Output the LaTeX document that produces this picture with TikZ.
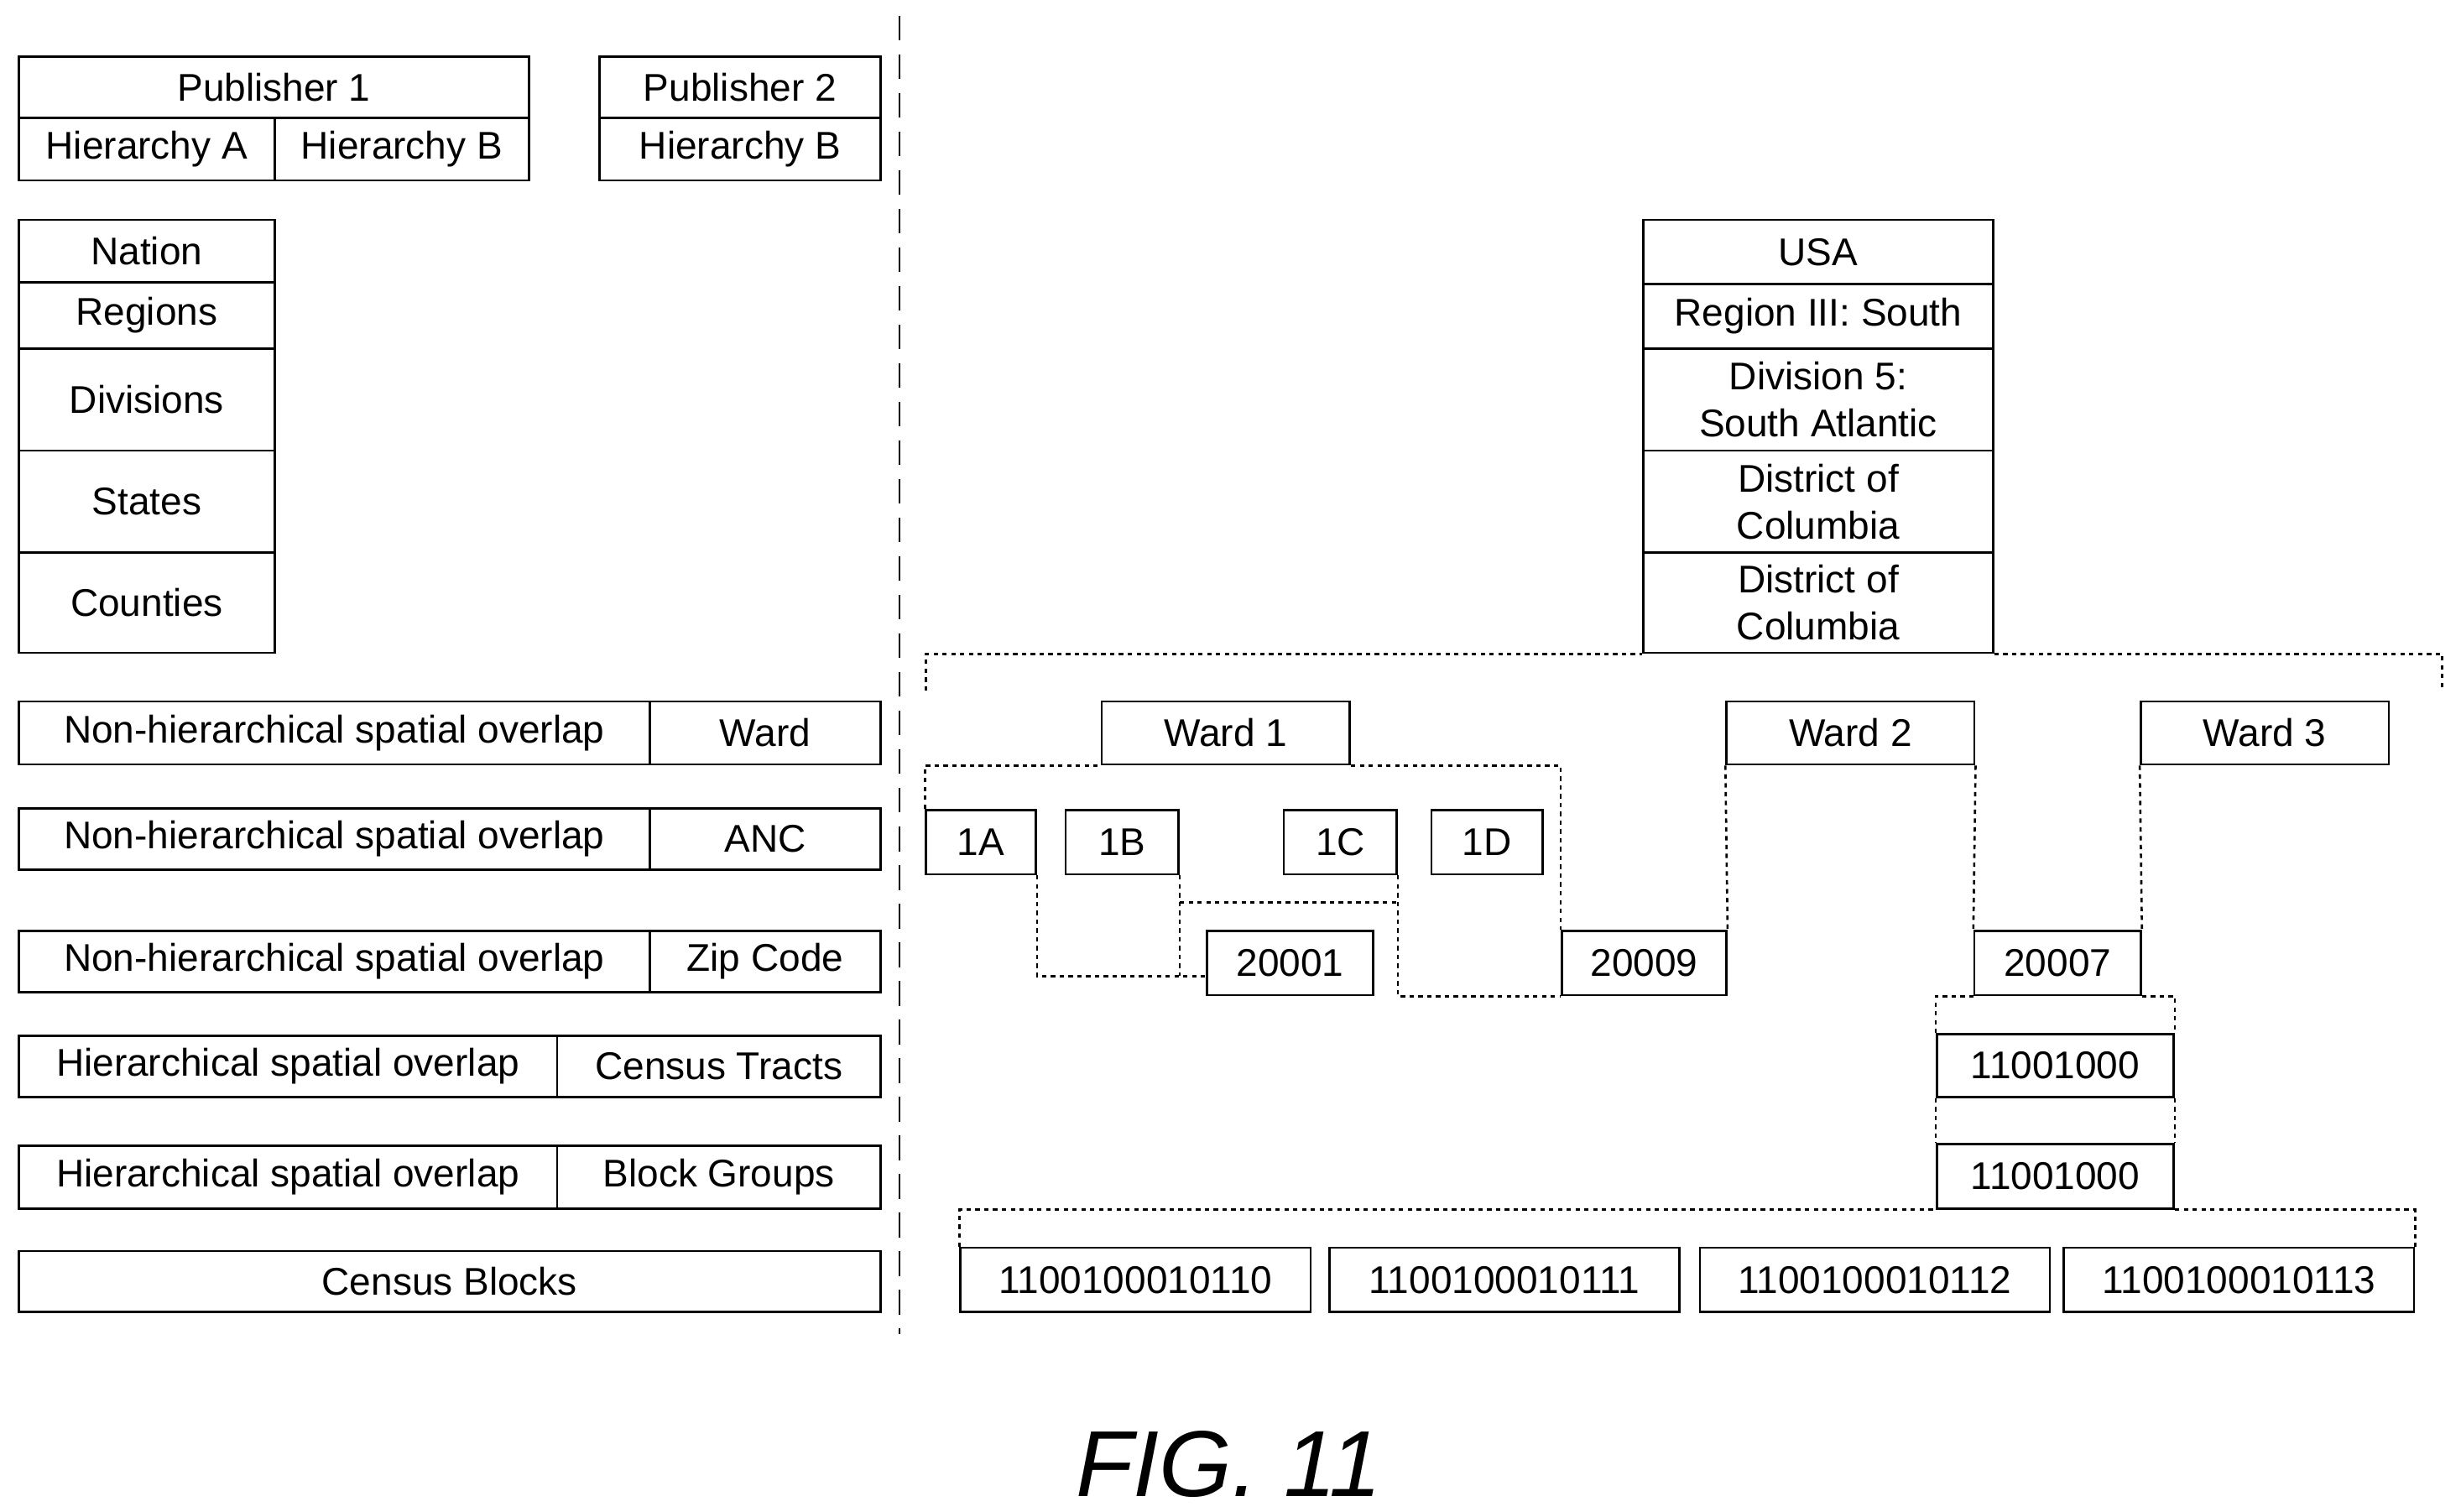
\documentclass[tikz,border=0pt]{standalone}
\usepackage{fontspec}
\setmainfont{Liberation Sans}
\begin{document}
\tikzset{
    cell/.style={draw,thick,inner sep=0pt,align=center,font=\fontsize{14}{17}\selectfont},
    link/.style={thick,dash pattern=on 1.6pt off 1.6pt},
    split/.style={thick,dash pattern=on 9pt off 5pt}
}
% box from corner (x1,y1) to (x2,y2), in pixel units
\newcommand{\cell}[6]{%
    \node[cell,minimum width={(#4-#2)*0.02cm},minimum height={(#5-#3)*0.02cm}]
        (#1) at ({(#2+#4)/2},{(#3+#5)/2}) {#6};}
\begin{tikzpicture}[x=0.02cm,y=-0.02cm]
    \useasboundingbox (0,0) rectangle (1568,963);
    % legend side
    \cell{pub1}{12}{36}{337}{75}{Publisher 1}
    \cell{hierA}{12}{75}{175}{115}{Hierarchy A}
    \cell{hierB}{175}{75}{337}{115}{Hierarchy B}
    \cell{pub2}{382}{36}{561}{75}{Publisher 2}
    \cell{hierB2}{382}{75}{561}{115}{Hierarchy B}
    \cell{nation}{12}{140}{175}{180}{Nation}
    \cell{regions}{12}{180}{175}{222}{Regions}
    \cell{divisions}{12}{222}{175}{287}{Divisions}
    \cell{states}{12}{287}{175}{352}{States}
    \cell{counties}{12}{352}{175}{416}{Counties}
    \cell{nhWard}{12}{447}{414}{487}{Non-hierarchical spatial overlap}
    \cell{ward}{414}{447}{561}{487}{Ward}
    \cell{nhAnc}{12}{515}{414}{554}{Non-hierarchical spatial overlap}
    \cell{anc}{414}{515}{561}{554}{ANC}
    \cell{nhZip}{12}{593}{414}{632}{Non-hierarchical spatial overlap}
    \cell{zip}{414}{593}{561}{632}{Zip Code}
    \cell{hTract}{12}{660}{355}{699}{Hierarchical spatial overlap}
    \cell{tracts}{355}{660}{561}{699}{Census Tracts}
    \cell{hGroup}{12}{730}{355}{770}{Hierarchical spatial overlap}
    \cell{groups}{355}{730}{561}{770}{Block Groups}
    \cell{blocks}{12}{797}{561}{836}{Census Blocks}
    \coordinate (top) at (573,10);
    \coordinate (bottom) at (573,850);
    \draw[split] (top) -- (bottom);

    % example side
    \cell{usa}{1047}{140}{1270}{181}{USA}
    \cell{region}{1047}{181}{1270}{222}{Region III: South}
    \cell{division}{1047}{222}{1270}{287}{Division 5:\\South Atlantic}
    \cell{state}{1047}{287}{1270}{352}{District of\\Columbia}
    \cell{county}{1047}{352}{1270}{416}{District of\\Columbia}
    \cell{ward1}{702}{447}{860}{487}{Ward 1}
    \cell{ward2}{1100}{447}{1258}{487}{Ward 2}
    \cell{ward3}{1364}{447}{1522}{487}{Ward 3}
    \cell{anc1A}{590}{516}{660}{557}{1A}
    \cell{anc1B}{679}{516}{751}{557}{1B}
    \cell{anc1C}{818}{516}{890}{557}{1C}
    \cell{anc1D}{912}{516}{983}{557}{1D}
    \cell{zip20001}{769}{593}{875}{634}{20001}
    \cell{zip20009}{995}{593}{1100}{634}{20009}
    \cell{zip20007}{1258}{593}{1364}{634}{20007}
    \cell{tract}{1234}{659}{1385}{699}{11001000}
    \cell{group}{1234}{729}{1385}{770}{11001000}
    \cell{block0}{612}{795}{835}{836}{1100100010110}
    \cell{block1}{847}{795}{1070}{836}{1100100010111}
    \cell{block2}{1083}{795}{1306}{836}{1100100010112}
    \cell{block3}{1315}{795}{1538}{836}{1100100010113}
    \coordinate (spanL) at (590,440);
    \coordinate (spanR) at (1556,440);

    \draw[link] (spanL) |- (county.south west) (county.south east) -| (spanR);
    \draw[link] (anc1A.north west) |- (ward1.south west);
    \draw[link] (ward1.south east) -| (zip20009.north west);
    \draw[link] (anc1A.south east) |- (zip20001.west |- 0,622);
    \draw[link] (anc1B.south east) -- (anc1B.south east |- 0,622);
    \draw[link] (anc1B.east |- 0,575) -- (anc1C.east |- 0,575);
    \draw[link] (anc1C.south east) |- (zip20009.south west);
    \draw[link] (ward2.south west) -- (zip20009.north east);
    \draw[link] (ward2.south east) -- (zip20007.north west);
    \draw[link] (ward3.south west) -- (zip20007.north east);
    \draw[link] (tract.north west) |- (zip20007.south west) (zip20007.south east) -| (tract.north east);
    \draw[link] (tract.south west) -- (group.north west) (tract.south east) -- (group.north east);
    \draw[link] (block0.north west) |- (group.south west) (group.south east) -| (block3.north east);

    \node[font=\fontsize{34}{40}\selectfont\itshape] (fig) at (783,933) {FIG. 11};
\end{tikzpicture}
\end{document}
